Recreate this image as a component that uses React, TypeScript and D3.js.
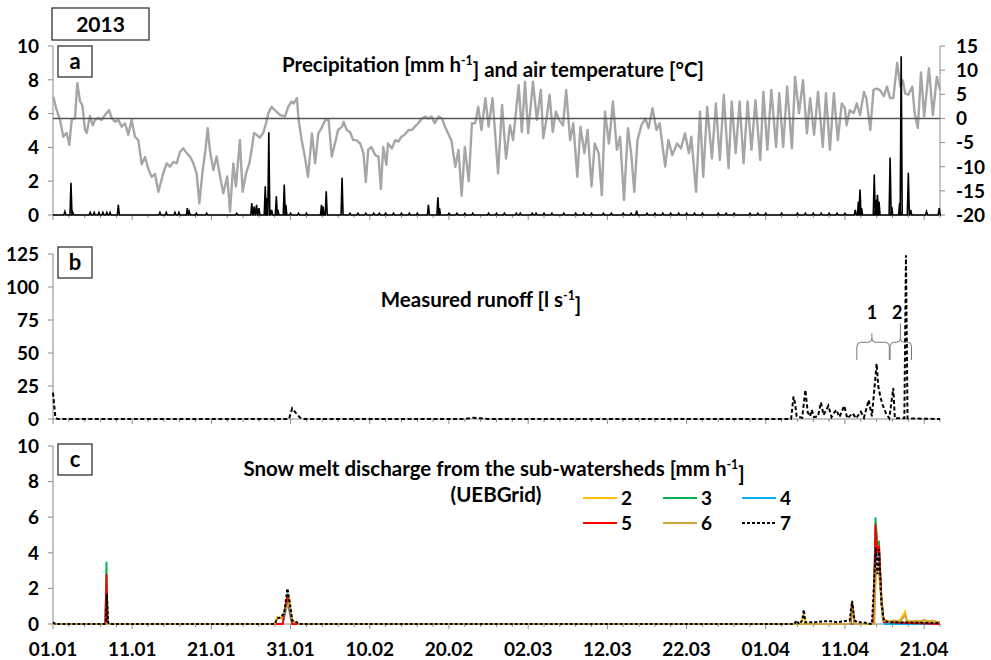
import React from 'react';
import * as d3 from 'd3';

// ---------- DATA ----------
const dateLabels = ['01.01', '11.01', '21.01', '31.01', '10.02', '20.02', '02.03', '12.03', '22.03', '01.04', '11.04', '21.04'];
const dateLabelDays = [0, 10, 20, 30, 40, 50, 60, 70, 80, 90, 100, 110];
const precipTicks = [0, 2, 4, 6, 8, 10];
const tempTicks = [-20, -15, -10, -5, 0, 5, 10, 15];
const runoffTicks = [0, 25, 50, 75, 100, 125];
const meltTicks = [0, 2, 4, 6, 8, 10];

// air temperature [°C] (day since 01.01, value)
const temperature: [number, number][] = [
  [0.04, 4.5], [0.46, 1.75], [0.88, -0.3], [1.3, -3.8], [1.73, -3.0], [2.06, -5.5], [2.36, -0.3], [2.78, 0.1],
  [3.07, 7.3], [3.41, 3.5], [3.7, 2.8], [4.04, -2.4], [4.25, -3.0], [4.67, 0.5], [5.01, -1.4], [5.3, -0.3],
  [5.72, 0.1], [6.14, -0.3], [6.57, 0.7], [7.07, 1.7], [7.41, 0.1], [7.83, -0.7], [8.25, -0.3], [8.67, -1.7],
  [9.09, -1.0], [9.51, -3.4], [9.93, -0.3], [10.35, -3.8], [10.77, -4.5], [11.2, -9.5], [11.62, -8.0],
  [12.04, -10.5], [12.46, -12.1], [12.88, -11.5], [13.3, -15.2], [13.93, -11.3], [14.35, -9.3], [14.77, -10],
  [15.19, -9], [15.62, -9.3], [16.04, -6.9], [16.46, -6.2], [16.88, -7.2], [17.3, -7.9], [17.72, -9.3],
  [18.14, -11.4], [18.48, -17.6], [18.9, -10.7], [19.24, -6.7], [19.53, -2], [19.82, -6.7], [20.24, -10.7],
  [20.66, -7.9], [21.17, -12.7], [21.5, -15.5], [22.0, -12], [22.35, -19.3], [22.77, -9.3], [23.1, -14.1],
  [23.6, -4.5], [23.95, -15.2], [24.37, -11.4], [24.79, -9.3], [25.08, -6.5], [25.38, -3.0], [25.71, -3.4],
  [26.1, -4.0], [26.55, -3.0], [26.9, -1.0], [27.2, 1.1], [27.6, 2.4], [28.0, 1.7], [28.7, 0.7], [29.3, 0.4],
  [29.7, 2.4], [30.1, 3.5], [30.4, 3.1], [30.8, 4.2], [31.0, -0.1], [31.4, -4.5], [31.8, -7.9], [32.2, -12.1],
  [32.7, -3.1], [33.1, -9.3], [33.5, -3.1], [33.9, -2], [34.4, -0.3], [34.8, -0.3], [35.2, -7.9], [35.6, -5.2],
  [36.0, -2.4], [36.5, -1.7], [36.7, -0.7], [37.1, -2.4], [37.5, -2.8], [37.9, -4.5], [38.3, -4.5], [38.8, -5.2],
  [39.2, -7.2], [39.5, -13.2], [39.8, -6.5], [40.2, -5.9], [40.7, -7.6], [41.1, -7.9], [41.4, -14.6], [41.7, -5.9],
  [42.1, -9.6], [42.3, -5.2], [42.8, -6.2], [43.2, -4.5], [43.6, -4.8], [44.0, -3.8], [44.4, -3.4], [44.9, -2.4],
  [45.3, -2.4], [45.7, -1.7], [46.1, -1.0], [46.6, 0], [47.0, 0.4], [47.4, 0], [47.8, 0.4], [48.2, -1],
  [48.7, 0.4], [49.1, 0], [49.5, -1.7], [49.9, -3.1], [50.3, -4.5], [50.8, -10], [51.2, -6.5], [51.6, -16],
  [52.0, -5.9], [52.5, -13], [52.9, -1], [53.3, -1], [53.7, 2.4], [54.1, -2.4], [54.6, 4.2], [55.0, -1.7],
  [55.5, 4.2], [56.2, -11.4], [56.7, 2.8], [57.2, -8.3], [57.7, -1.4], [58.1, -4.5], [58.8, 6.9], [59.2, -2.8],
  [59.6, 7.6], [60.0, -3.1], [60.6, 7.6], [61.1, -0.3], [61.6, 5.9], [61.9, -4.1], [62.3, -0.3], [62.7, 4.9],
  [63.1, -2.8], [63.5, 1.4], [63.9, -0.3], [64.4, -1.4], [64.8, 5.9], [65.3, -4.5], [65.7, -1], [66.2, -12.1],
  [66.6, -1.7], [67.1, -7.2], [67.5, -2.4], [68.0, -14.1], [68.4, -5.2], [68.9, -7.2], [69.3, -15.9], [69.7, 1.4],
  [70.2, -5.2], [70.7, 3.5], [71.2, -6.5], [71.6, -3.8], [72.1, -16.9], [72.6, -2], [73.0, -7.2], [73.4, -15.2],
  [73.8, -4.5], [74.3, -1.4], [74.8, 0], [75.2, -2], [75.7, 2.1], [76.2, -2.4], [76.6, -1], [77.3, -10],
  [77.7, -4.5], [78.2, -7.6], [78.8, -5.2], [79.3, -6.2], [79.8, -3.1], [80.3, -7.2], [80.6, -3.8], [81.2, -15.2],
  [81.7, 1.4], [82.1, -12.1], [82.6, 2.4], [83.2, -8.3], [83.7, 3.1], [84.2, -8.6], [84.7, 4.9], [85.3, -10.3],
  [85.7, 3.5], [86.2, -7.2], [86.7, 3.5], [87.2, -9.3], [87.7, 3.5], [88.2, -6.5], [88.7, 3.8], [89.3, -8.6],
  [89.7, 5.5], [90.2, -6.5], [90.7, 5.9], [91.3, -5.9], [91.7, 5.2], [92.2, -5.9], [92.7, 6.6], [93.3, -6.2],
  [93.7, 8.6], [94.2, 1.1], [94.7, 7.9], [95.2, -3.1], [95.6, 4.2], [96.1, -3.4], [96.6, 5.5], [97.2, -5.9],
  [97.6, 5.2], [98.1, -6.5], [98.6, 5.2], [99.1, -4.5], [99.6, 3.1], [100.0, 2.1], [100.2, -1.4], [100.6, 1.7],
  [101.1, 1.1], [101.5, 3.1], [101.9, 0.7], [102.4, 5.5], [102.7, 4.2], [103.2, -2.4], [103.6, 5.9], [104.0, 6.2],
  [104.4, 5.9], [104.9, 4.6], [105.3, 6.6], [105.7, 4.2], [106.1, 4.2], [106.6, 11.5], [107.0, 6.6], [107.3, 7.9],
  [107.6, 5.2], [108.0, 4.9], [108.5, 6.6], [108.8, 1.1], [109.2, -2], [109.6, 9.5], [110.0, 0.4], [110.6, 10.4],
  [111.1, 0.7], [111.6, 8.6], [112.0, 5.9],
];

// precipitation [mm h-1] events (day, value)
const precipitation: [number, number][] = [
  [1.5, 0.2], [2.27, 1.9], [2.5, 0.15], [4.7, 0.15], [5.2, 0.15], [5.8, 0.15], [6.3, 0.15], [6.8, 0.15],
  [7.2, 0.15], [8.25, 0.6], [13.5, 0.15], [14.3, 0.15], [15.4, 0.15], [15.9, 0.15], [16.96, 0.4], [17.2, 0.2],
  [18.1, 0.1], [19.4, 0.1], [23.2, 0.1], [25.1, 0.7], [25.4, 0.5], [25.7, 0.6], [26.0, 0.4], [26.8, 1.7],
  [27.0, 1.0], [27.25, 4.9], [27.6, 0.3], [28.2, 1.1], [28.4, 0.3], [29.2, 1.8], [29.4, 0.6], [30, 0.1],
  [31, 0.1], [32, 0.1], [33.9, 0.6], [34.1, 0.5], [34.5, 1.4], [36.5, 2.2], [37.5, 0.1], [38.5, 0.1],
  [39.5, 0.1], [40.5, 0.1], [41.2, 0.1], [42, 0.1], [43, 0.1], [44, 0.1], [45, 0.1], [46, 0.1], [47.4, 0.6],
  [48.6, 1.05], [48.8, 0.4], [50, 0.1], [51, 0.1], [52, 0.1], [53, 0.1], [55, 0.1], [56, 0.1], [57, 0.1],
  [58.5, 0.1], [59, 0.1], [60.5, 0.1], [61, 0.1], [62, 0.1], [63, 0.1], [64.5, 0.1], [66, 0.1], [67, 0.1],
  [68, 0.1], [69.5, 0.1], [70.5, 0.1], [72, 0.1], [73, 0.1], [73.7, 0.25], [75, 0.1], [76, 0.1], [77, 0.1],
  [78, 0.1], [79, 0.1], [80, 0.1], [81, 0.1], [82, 0.1], [84, 0.1], [85, 0.1], [86, 0.1], [88, 0.1], [89, 0.1],
  [90, 0.1], [92, 0.1], [94, 0.1], [95, 0.1], [96, 0.1], [97, 0.1], [98, 0.1], [99, 0.1], [100, 0.1],
  [101.3, 0.3], [101.7, 0.8], [101.9, 1.5], [102.1, 0.4], [103.7, 2.4], [103.9, 0.9], [104.1, 1.2], [104.3, 0.8],
  [105.7, 3.4], [105.9, 0.5], [106.9, 0.7], [107.1, 9.4], [108.0, 2.5], [108.3, 0.3], [110.3, 0.2], [111.9, 0.4],
];

// measured runoff [l s-1]
const runoff: [number, number][] = [
  [0, 20], [0.3, 1], [0.6, 0], [29.8, 0], [30.2, 8], [30.6, 5], [31.2, 1], [31.8, 0], [52, 0], [53, 1], [54, 0.5],
  [55, 0], [93.2, 0], [93.5, 17], [93.7, 12], [93.9, 2], [94.6, 1], [95.0, 22], [95.3, 5], [95.6, 2], [95.8, 7],
  [96.1, 1.5], [96.6, 2], [96.96, 12.6], [97.3, 3], [97.9, 10], [98.3, 1.5], [98.9, 7], [99.3, 1.5], [99.9, 10],
  [100.3, 0.5], [100.97, 4.3], [101.4, 0.5], [102.0, 5.5], [102.4, 1], [103.0, 14.4], [103.4, 2], [104.0, 42],
  [104.2, 25], [104.5, 16], [104.8, 10], [105.2, 4], [105.6, 0.5], [106.1, 23.5], [106.3, 0.5], [107.5, 0.5],
  [107.7, 124], [107.9, 0.5], [112, 0],
];

// brace annotations in panel b
const braceLabels = ['1', '2'];
const braceStart = [101.5, 105.7];
const braceEnd = [105.6, 108.4];
const braceStem = [103.4, 107.0];
const braceLeg = [44.7, 44.7];
const braceTop = [58.1, 58.1];
const braceStemTop = [64.9, 72.5];
const braceLabelDay = [103.4, 106.6];

// snow melt discharge [mm h-1] per sub-watershed
const melt2: [number, number][] = [
  [0, 0], [28, 0], [28.3, 0.4], [28.8, 0.3], [29.4, 0.9], [29.8, 1.5], [30.2, 0.2], [31, 0], [94.4, 0], [94.8, 0.5],
  [95.1, 0], [100.6, 0], [100.9, 1.0], [101.2, 0], [103.7, 0], [103.9, 3.5], [104.3, 3.2], [104.8, 0.3],
  [105.5, 0.15], [106, 0.2], [106.5, 0.1], [107, 0.25], [107.6, 0.7], [107.8, 0.2], [108.5, 0.15], [109, 0.2],
  [109.5, 0.1], [110, 0.25], [110.5, 0.1], [111, 0.2], [111.5, 0.15], [112, 0.1],
];
const melt3: [number, number][] = [
  [0, 0], [6.6, 0], [6.75, 3.5], [6.9, 0], [29, 0], [29.6, 1.7], [30.2, 0], [100.7, 0], [100.9, 1.2], [101.2, 0],
  [103.6, 0], [103.85, 6.0], [104.1, 4.5], [104.3, 4.6], [104.6, 1.5], [104.9, 0.1], [112, 0],
];
const melt4: [number, number][] = [
  [0, 0], [6.6, 0], [6.75, 2.0], [6.9, 0], [29, 0], [29.6, 1.2], [30.2, 0], [103.6, 0], [103.85, 4.0],
  [104.3, 3.5], [104.7, 0.5], [105, 0], [112, 0],
];
const melt5: [number, number][] = [
  [0, 0], [6.6, 0], [6.75, 2.8], [6.9, 0], [29, 0], [29.6, 1.6], [30.2, 0], [100.7, 0], [100.9, 1.2], [101.2, 0],
  [103.6, 0], [103.85, 5.6], [104.1, 4.0], [104.3, 4.4], [104.6, 1.5], [104.9, 0.1], [112, 0],
];
const melt6: [number, number][] = [
  [0, 0], [28, 0], [28.3, 0.3], [28.8, 0.35], [29.4, 0.8], [29.8, 1.2], [30.2, 0.2], [31, 0], [100.6, 0],
  [100.9, 0.9], [101.2, 0], [103.7, 0], [103.9, 3.0], [104.3, 2.8], [104.8, 0.2], [105.5, 0.1], [106.2, 0.2],
  [107, 0.15], [107.6, 0.5], [107.8, 0.15], [109, 0.15], [110, 0.2], [111, 0.15], [112, 0.1],
];
const melt7: [number, number][] = [
  [0, 0.1], [0.3, 0], [6.5, 0], [6.7, 0.2], [6.8, 1.7], [6.95, 0.1], [7.1, 0], [28, 0], [28.3, 0.3], [28.8, 0.4],
  [29.2, 0.6], [29.6, 2.0], [29.9, 1.2], [30.2, 0.2], [30.6, 0.15], [31, 0], [93.6, 0], [93.9, 0.2], [94.2, 0],
  [94.6, 0.2], [94.8, 0.8], [95.0, 0.1], [96.2, 0.1], [97.3, 0.15], [98.2, 0.15], [99.0, 0.1], [100.6, 0.2],
  [100.9, 1.3], [101.2, 0.2], [101.6, 0.1], [102.2, 0.1], [103.4, 0], [103.7, 2.5], [103.9, 4.3], [104.1, 2.8],
  [104.3, 4.2], [104.6, 1.2], [104.9, 0.2], [105.5, 0.1], [112, 0.05],
];
const meltNames = ['2', '3', '4', '5', '6', '7'];
const meltColors = ['#FFC000', '#00B050', '#00B0F0', '#FF0000', '#CFA33E', '#000000'];

// ---------- LAYOUT ----------
const FONT = "Lato, 'Open Sans', sans-serif";
const TICK_FS = 19;
const TITLE_FS = 20.5;
const x = d3.scaleLinear().domain([0, 112]).range([53, 940]);
const yP = d3.scaleLinear().domain([0, 10]).range([215, 46]);
const yT = d3.scaleLinear().domain([-20, 15]).range([215, 46]);
const yR = d3.scaleLinear().domain([0, 125]).range([419, 254]);
const yS = d3.scaleLinear().domain([0, 10]).range([624, 446]);
const AX = '#8c8c8c';

const minorDays = d3.range(0, 113, 2);

function XAxis({ y0, labels }: { y0: number; labels: boolean }) {
  return (
    <g>
      <line x1={x(0)} x2={x(112)} y1={y0} y2={y0} stroke={AX} strokeWidth={1.2} />
      {minorDays.map((d) => (
        <line key={d} x1={x(d)} x2={x(d)} y1={y0} y2={y0 + (d % 10 === 0 ? 5 : 3)} stroke={AX} strokeWidth={1} />
      ))}
      {labels &&
        dateLabels.map((t, i) => (
          <text key={t} x={x(dateLabelDays[i])} y={y0 + 32} textAnchor="middle" fontSize={TICK_FS} fontWeight="bold" fontFamily={FONT}>
            {t}
          </text>
        ))}
    </g>
  );
}

function YAxis({ scale, ticks, side }: { scale: d3.ScaleLinear<number, number>; ticks: number[]; side: 'left' | 'right' }) {
  const x0 = side === 'left' ? x(0) : x(112);
  const r = scale.range();
  return (
    <g>
      <line x1={x0} x2={x0} y1={r[0]} y2={r[1]} stroke={AX} strokeWidth={1} />
      {ticks.map((t) => (
        <g key={t}>
          <line x1={x0} x2={side === 'left' ? x0 - 5 : x0 + 5} y1={scale(t)} y2={scale(t)} stroke={AX} strokeWidth={1} />
          <text
            x={side === 'left' ? 39 : 956}
            y={scale(t)}
            dy="0.36em"
            textAnchor={side === 'left' ? 'end' : 'start'}
            fontSize={TICK_FS}
            fontWeight="bold"
            fontFamily={FONT}
          >
            {t}
          </text>
        </g>
      ))}
    </g>
  );
}

function LabelBox({ x0, y0, w, h, text, fs }: { x0: number; y0: number; w: number; h: number; text: string; fs: number }) {
  return (
    <g>
      <rect x={x0} y={y0} width={w} height={h} fill="white" stroke="#333" strokeWidth={1.3} />
      <text x={x0 + w / 2} y={y0 + h / 2} dy="0.36em" textAnchor="middle" fontSize={fs} fontWeight="bold" fontFamily={FONT}>
        {text}
      </text>
    </g>
  );
}

function Sup({ children }: { children: React.ReactNode }) {
  return (
    <tspan fontSize="0.6em" dy="-0.55em">
      {children}
    </tspan>
  );
}

export default function App() {
  const tLine = d3.line<[number, number]>().x((d) => x(d[0])).y((d) => yT(d[1]));
  const pPath = (() => {
    const sorted = [...precipitation].sort((a, b) => a[0] - b[0]);
    let p = `M${x(0)},${yP(0)}`;
    sorted.forEach(([d, v]) => {
      p += `L${x(d) - 1},${yP(0)}L${x(d)},${yP(v)}L${x(d) + 1},${yP(0)}`;
    });
    p += `L${x(112)},${yP(0)}`;
    return p;
  })();
  const rLine = d3.line<[number, number]>().x((d) => x(d[0])).y((d) => yR(d[1]));
  const sLine = d3.line<[number, number]>().x((d) => x(d[0])).y((d) => yS(d[1]));
  const meltSeries = [melt2, melt3, melt4, melt5, melt6, melt7];

  const brace = (i: number) => {
    const xa = x(braceStart[i]);
    const xb = x(braceEnd[i]);
    const xm = x(braceStem[i]);
    const yl = yR(braceLeg[i]);
    const yt = yR(braceTop[i]);
    const ys = yR(braceStemTop[i]);
    const r = 4;
    return `M${xa},${yl}L${xa},${yt + r}Q${xa},${yt} ${xa + r},${yt}L${xm - r},${yt}Q${xm},${yt} ${xm},${yt - r}L${xm},${ys}` +
      `M${xm},${yt - r}Q${xm},${yt} ${xm + r},${yt}L${xb - r},${yt}Q${xb},${yt} ${xb},${yt + r}L${xb},${yl}`;
  };

  const legendX = [583, 663, 742];
  const legendY = [498, 523];

  return (
    <svg width={991} height={660} style={{ position: 'absolute', left: 0, top: 0, background: 'white' }} fontFamily={FONT}>
      <rect width={991} height={660} fill="white" />

      {/* ---------- panel a ---------- */}
      <YAxis scale={yP} ticks={precipTicks} side="left" />
      <YAxis scale={yT} ticks={tempTicks} side="right" />
      <XAxis y0={yP(0)} labels={false} />
      <path d={tLine(temperature) || ''} fill="none" stroke="#a6a6a6" strokeWidth={2.4} strokeLinejoin="round" />
      <line x1={x(0)} x2={x(112)} y1={yT(0)} y2={yT(0)} stroke="#555" strokeWidth={1.5} />
      <path d={pPath} fill="none" stroke="#000" strokeWidth={1.6} strokeLinejoin="miter" />
      <text x={493} y={72} textAnchor="middle" fontSize={TITLE_FS} fontWeight="bold">
        Precipitation [mm h<Sup>-1</Sup>
        <tspan dy="0.55em">] and air temperature [°C]</tspan>
      </text>
      <LabelBox x0={58} y0={46} w={34} h={31} text="a" fs={22} />
      <LabelBox x0={52} y0={8} w={97} h={32} text="2013" fs={21} />

      {/* ---------- panel b ---------- */}
      <YAxis scale={yR} ticks={runoffTicks} side="left" />
      <XAxis y0={yR(0)} labels={false} />
      <path d={rLine(runoff) || ''} fill="none" stroke="#000" strokeWidth={2} strokeDasharray="4,2.5" />
      {braceLabels.map((l, i) => (
        <g key={l}>
          <path d={brace(i)} fill="none" stroke="#777" strokeWidth={1} />
          <text x={x(braceLabelDay[i])} y={yR(76)} textAnchor="middle" fontSize={18} fontWeight="bold">
            {l}
          </text>
        </g>
      ))}
      <text x={481} y={307} textAnchor="middle" fontSize={TITLE_FS} fontWeight="bold">
        Measured runoff [l s<Sup>-1</Sup>
        <tspan dy="0.55em">]</tspan>
      </text>
      <LabelBox x0={58} y0={247} w={34} h={31} text="b" fs={22} />

      {/* ---------- panel c ---------- */}
      <YAxis scale={yS} ticks={meltTicks} side="left" />
      <XAxis y0={yS(0)} labels={true} />
      {meltSeries.map((s, i) => (
        <path
          key={meltNames[i]}
          d={sLine(s) || ''}
          fill="none"
          stroke={meltColors[i]}
          strokeWidth={i === 5 ? 2 : 1.8}
          strokeDasharray={i === 5 ? '3,2' : undefined}
        />
      ))}
      <text x={494} y={476} textAnchor="middle" fontSize={TITLE_FS} fontWeight="bold">
        Snow melt discharge from the sub-watersheds [mm h<Sup>-1</Sup>
        <tspan dy="0.55em">]</tspan>
      </text>
      <text x={496} y={502} textAnchor="middle" fontSize={TITLE_FS} fontWeight="bold">
        (UEBGrid)
      </text>
      {meltNames.map((n, i) => {
        const lx = legendX[i % 3];
        const ly = legendY[Math.floor(i / 3)];
        return (
          <g key={n}>
            <line x1={lx} x2={lx + 34} y1={ly} y2={ly} stroke={meltColors[i]} strokeWidth={2} strokeDasharray={i === 5 ? '3,2' : undefined} />
            <text x={lx + 38} y={ly} dy="0.36em" fontSize={19} fontWeight="bold">
              {n}
            </text>
          </g>
        );
      })}
      <LabelBox x0={58} y0={444} w={34} h={31} text="c" fs={22} />
    </svg>
  );
}
